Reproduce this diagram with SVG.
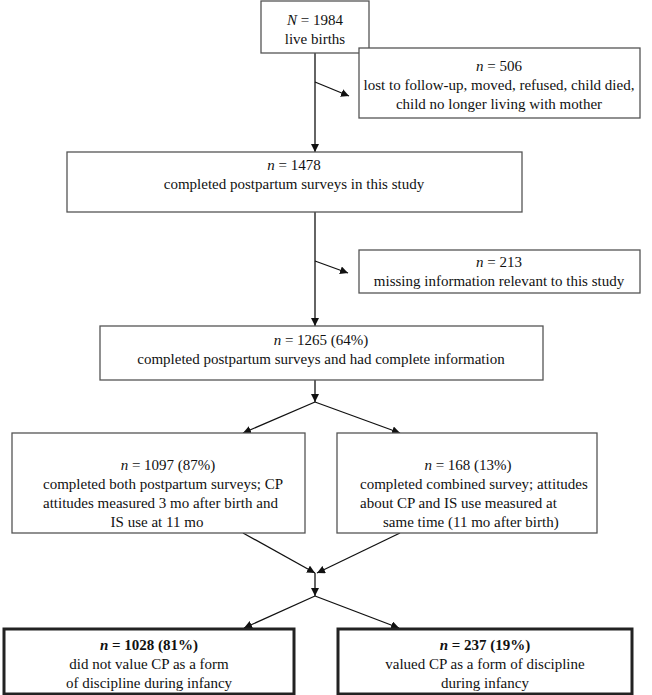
<svg xmlns="http://www.w3.org/2000/svg" width="652" height="695" viewBox="0 0 652 695">
<defs>
<style>
.box{fill:#fff;stroke:#555;stroke-width:1.3}
.bold{fill:#fff;stroke:#222;stroke-width:3}
.t{font-family:"Liberation Serif","Times New Roman",serif;font-size:15px;fill:#111}
.c{text-anchor:middle}
.conn{stroke:#111;stroke-width:1.3;fill:none}
</style>
<marker id="ah" viewBox="0 0 10 10" refX="10" refY="5" markerWidth="8" markerHeight="8" markerUnits="userSpaceOnUse" orient="auto">
<path d="M0,0 L10,5 L0,10 z" fill="#111"/>
</marker>
</defs>
<rect width="652" height="695" fill="#fff"/>
<g id="connectors">
<line class="conn" x1="315" y1="53" x2="315" y2="152" marker-end="url(#ah)"/>
<line class="conn" x1="315" y1="82" x2="349" y2="96" marker-end="url(#ah)"/>
<line class="conn" x1="315" y1="212" x2="315" y2="326" marker-end="url(#ah)"/>
<line class="conn" x1="315" y1="261" x2="348" y2="273" marker-end="url(#ah)"/>
<line class="conn" x1="315" y1="380" x2="315" y2="402" marker-end="url(#ah)"/>
<line class="conn" x1="315" y1="402" x2="243" y2="433" marker-end="url(#ah)"/>
<line class="conn" x1="315" y1="402" x2="400" y2="433" marker-end="url(#ah)"/>
<line class="conn" x1="243" y1="533" x2="315" y2="573" marker-end="url(#ah)"/>
<line class="conn" x1="400" y1="533" x2="317" y2="573" marker-end="url(#ah)"/>
<line class="conn" x1="315" y1="573" x2="315" y2="596" marker-end="url(#ah)"/>
<line class="conn" x1="315" y1="596" x2="244" y2="628" marker-end="url(#ah)"/>
<line class="conn" x1="315" y1="596" x2="399" y2="628" marker-end="url(#ah)"/>
</g>
<g id="n1984">
<rect class="box" x="261" y="1" width="108" height="52"/>
<text class="t c" x="315" y="25"><tspan font-style="italic">N</tspan> = 1984</text>
<text class="t c" x="315" y="44">live births</text>
</g>
<g id="n506">
<rect class="box" x="359" y="48" width="281" height="70"/>
<text class="t c" x="499" y="71"><tspan font-style="italic">n</tspan> = 506</text>
<text class="t c" x="499" y="90">lost to follow-up, moved, refused, child died,</text>
<text class="t c" x="499" y="109">child no longer living with mother</text>
</g>
<g id="n1478">
<rect class="box" x="67" y="152" width="455" height="60"/>
<text class="t c" x="294" y="170"><tspan font-style="italic">n</tspan> = 1478</text>
<text class="t c" x="294" y="189">completed postpartum surveys in this study</text>
</g>
<g id="n213">
<rect class="box" x="359" y="250" width="281" height="43"/>
<text class="t c" x="499" y="267"><tspan font-style="italic">n</tspan> = 213</text>
<text class="t c" x="499" y="286">missing information relevant to this study</text>
</g>
<g id="n1265">
<rect class="box" x="100" y="326" width="443" height="54"/>
<text class="t c" x="321" y="345"><tspan font-style="italic">n</tspan> = 1265 (64%)</text>
<text class="t c" x="321" y="364">completed postpartum surveys and had complete information</text>
</g>
<g id="n1097">
<rect class="box" x="12" y="433" width="293" height="100"/>
<text class="t c" x="168" y="470"><tspan font-style="italic">n</tspan> = 1097 (87%)</text>
<text class="t" x="43" y="489">completed both postpartum surveys; CP</text>
<text class="t" x="43" y="508">attitudes measured 3 mo after birth and</text>
<text class="t c" x="157" y="527">IS use at 11 mo</text>
</g>
<g id="n168">
<rect class="box" x="337" y="433" width="260" height="100"/>
<text class="t c" x="468" y="470"><tspan font-style="italic">n</tspan> = 168 (13%)</text>
<text class="t" x="360" y="489">completed combined survey; attitudes</text>
<text class="t" x="360" y="508">about CP and IS use measured at</text>
<text class="t" x="383" y="527">same time (11 mo after birth)</text>
</g>
<g id="n1028">
<rect class="bold" x="4" y="629" width="290" height="65"/>
<text class="t c" x="149" y="650" font-weight="bold"><tspan font-style="italic">n</tspan> = 1028 (81%)</text>
<text class="t c" x="149" y="669">did not value CP as a form</text>
<text class="t c" x="149" y="688">of discipline during infancy</text>
</g>
<g id="n237">
<rect class="bold" x="338" y="629" width="294" height="65"/>
<text class="t c" x="485" y="650" font-weight="bold"><tspan font-style="italic">n</tspan> = 237 (19%)</text>
<text class="t c" x="485" y="669">valued CP as a form of discipline</text>
<text class="t c" x="485" y="688">during infancy</text>
</g>
</svg>
